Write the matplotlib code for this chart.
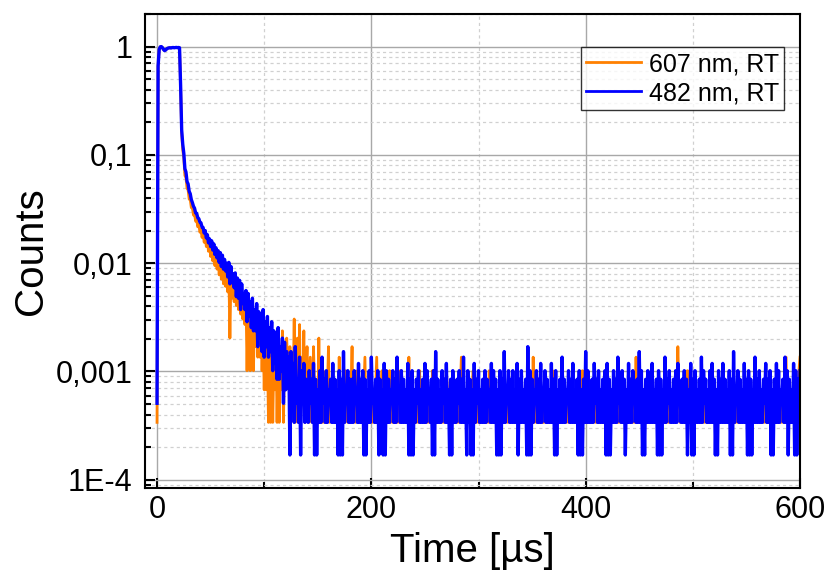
# time-resolved luminescence decay, 607 nm vs 482 nm at room temperature
import numpy as np
import matplotlib.pyplot as plt
from matplotlib.ticker import FixedLocator, FixedFormatter, LogLocator, MultipleLocator

# counts per 1 us channel, normalised afterwards to the plateau level
norm_blue = 5900.0
norm_orange = 2950.0

# pulse plateau, t = 0 .. 22 us
blue_peak = [3, 3900, 5550, 5870, 5900, 5780, 5560, 5420, 5480, 5620, 5700, 5740,
             5760, 5730, 5770, 5790, 5760, 5780, 5800, 5770, 5790, 5760, 2600]
orange_peak = [1, 1950, 2780, 2930, 2950, 2890, 2790, 2720, 2750, 2810, 2850, 2870,
               2880, 2870, 2890, 2900, 2880, 2890, 2900, 2880, 2890, 2870, 1250]

# decay, t = 23 .. 140 us
blue_decay = [1000, 740, 610, 440, 410, 335, 318, 272, 258, 228, 214, 198, 190, 172, 170, 155, 152, 141, 139, 127,
              126, 112, 118, 101, 108, 91, 99, 84, 95, 78, 89, 71, 82, 66, 77, 60, 74, 55, 70, 52,
              64, 50, 59, 44, 60, 38, 55, 39, 47, 35, 48, 29, 43, 28, 41, 22, 38, 25, 31, 22,
              33, 17, 31, 19, 26, 15, 28, 14, 22, 14, 25, 10, 21, 12, 18, 9, 22, 8, 17, 10,
              19, 8, 15, 9, 17, 6, 14, 7, 12, 5, 15, 5, 10, 6, 12, 3, 11, 4, 9, 5,
              8, 1, 9, 3, 7, 2, 10, 3, 5, 2, 8, 1, 6, 3, 7, 2, 5, 3]
orange_decay = [470, 330, 275, 190, 182, 145, 140, 115, 114, 96, 96, 82, 84, 72, 74, 64, 67, 57, 60, 51,
                56, 46, 52, 42, 49, 38, 46, 34, 43, 31, 40, 28, 37, 26, 35, 23, 33, 21, 31, 19,
                29, 18, 27, 16, 25, 6, 23, 14, 22, 13, 20, 12, 19, 11, 17, 10, 16, 9, 15, 8,
                14, 3, 13, 7, 3, 6, 12, 3, 11, 5, 10, 4, 9, 4, 8, 3, 7, 2, 6, 2,
                5, 1, 6, 1, 5, 1, 4, 2, 6, 1, 5, 1, 4, 2, 7, 1, 5, 2, 6, 3,
                2, 5, 1, 4, 2, 9, 1, 3, 6, 2, 8, 1, 4, 2, 7, 1, 3, 5]

# background, t = 141 .. 600 us
blue_tail = [2, 6, 3, 5, 2, 7, 1, 5, 1, 4, 2, 6, 2, 8, 3, 5, 2, 6, 2, 4,
             3, 5, 2, 7, 2, 5, 2, 4, 1, 6, 1, 5, 1, 9, 2, 4, 3, 6, 2, 5,
             2, 5, 2, 6, 3, 4, 2, 7, 2, 5, 2, 6, 1, 5, 1, 4, 2, 6, 2, 8,
             3, 4, 2, 5, 2, 6, 1, 5, 2, 4, 1, 7, 1, 6, 2, 5, 2, 4, 3, 6,
             2, 5, 2, 8, 3, 4, 2, 6, 2, 5, 2, 4, 2, 7, 1, 5, 1, 6, 1, 4,
             2, 5, 3, 6, 2, 4, 2, 5, 2, 7, 2, 6, 3, 4, 2, 5, 1, 6, 1, 9,
             2, 5, 2, 4, 2, 6, 3, 5, 2, 7, 2, 4, 1, 5, 1, 6, 2, 4, 2, 5,
             3, 6, 2, 5, 2, 8, 2, 4, 1, 6, 2, 5, 1, 4, 1, 7, 2, 5, 3, 6,
             2, 4, 2, 5, 2, 6, 2, 5, 3, 4, 2, 7, 2, 6, 2, 5, 1, 4, 1, 6,
             1, 5, 2, 9, 2, 4, 3, 6, 2, 5, 2, 6, 2, 4, 2, 7, 1, 5, 2, 6,
             2, 4, 2, 5, 1, 10, 1, 6, 1, 5, 2, 4, 3, 6, 2, 5, 2, 7, 2, 4,
             3, 6, 2, 5, 2, 4, 2, 7, 2, 5, 1, 6, 1, 4, 2, 5, 2, 8, 2, 5,
             2, 4, 3, 6, 2, 5, 2, 7, 2, 4, 2, 5, 1, 6, 1, 4, 1, 5, 2, 9,
             2, 6, 2, 4, 2, 5, 2, 7, 3, 5, 2, 6, 2, 4, 2, 5, 2, 6, 1, 7,
             1, 5, 1, 4, 2, 6, 2, 5, 2, 8, 3, 4, 2, 6, 2, 5, 1, 4, 2, 7,
             2, 5, 2, 6, 3, 4, 2, 5, 2, 9, 2, 6, 1, 4, 1, 5, 2, 6, 2, 5,
             2, 7, 2, 4, 2, 5, 1, 6, 1, 5, 1, 4, 2, 8, 2, 5, 3, 6, 2, 4,
             2, 5, 2, 6, 2, 7, 3, 4, 2, 5, 2, 6, 2, 5, 1, 4, 2, 7, 1, 5,
             1, 6, 2, 4, 2, 5, 2, 8, 2, 6, 3, 5, 2, 4, 2, 6, 2, 7, 2, 5,
             1, 4, 1, 6, 2, 5, 2, 7, 2, 5, 2, 4, 2, 6, 1, 5, 1, 9, 2, 4,
             3, 6, 2, 5, 2, 4, 2, 7, 2, 5, 1, 6, 1, 5, 1, 4, 2, 8, 2, 5,
             2, 6, 2, 4, 2, 5, 3, 7, 2, 5, 2, 6, 1, 4, 1, 5, 2, 7, 2, 6,
             2, 4, 3, 5, 2, 8, 2, 6, 1, 5, 2, 4, 2, 7, 1, 6, 1, 5, 2, 6]
orange_tail = [2, 1, 4, 2, 1, 5, 2, 1, 2, 1, 6, 1, 2, 1, 3, 1, 2, 1, 2, 5,
               1, 2, 1, 3, 1, 2, 1, 2, 1, 4, 1, 2, 1, 2, 1, 3, 2, 1, 2, 1,
               2, 5, 1, 2, 1, 2, 3, 1, 2, 1, 2, 1, 2, 4, 1, 2, 1, 2, 1, 3,
               1, 2, 1, 2, 4, 1, 2, 1, 2, 3, 1, 2, 1, 2, 1, 2, 3, 1, 2, 1,
               2, 1, 2, 1, 2, 1, 3, 1, 2, 1, 2, 1, 2, 1, 4, 1, 2, 1, 2, 1,
               2, 1, 2, 1, 3, 1, 2, 1, 2, 1, 2, 1, 2, 1, 2, 1, 3, 1, 2, 1,
               1, 2, 1, 2, 1, 2, 1, 2, 1, 3, 2, 1, 2, 1, 2, 1, 2, 1, 2, 1,
               2, 1, 2, 4, 1, 2, 1, 2, 1, 2, 1, 2, 1, 2, 3, 1, 2, 1, 2, 1,
               1, 2, 1, 2, 1, 2, 1, 2, 1, 3, 1, 2, 1, 2, 1, 2, 1, 2, 1, 2,
               1, 2, 1, 2, 1, 2, 1, 3, 1, 2, 1, 2, 1, 2, 1, 2, 1, 2, 1, 2,
               2, 1, 2, 1, 2, 1, 2, 1, 2, 1, 4, 1, 2, 1, 2, 1, 2, 1, 2, 1,
               1, 2, 1, 2, 1, 2, 1, 2, 3, 1, 2, 1, 2, 1, 2, 1, 2, 1, 2, 1,
               2, 1, 2, 1, 2, 1, 2, 1, 2, 1, 2, 1, 2, 1, 2, 1, 3, 1, 2, 1,
               1, 2, 1, 2, 1, 2, 1, 2, 1, 2, 1, 2, 1, 2, 1, 2, 1, 2, 1, 2,
               1, 2, 1, 2, 1, 2, 1, 2, 1, 3, 1, 2, 1, 2, 1, 2, 1, 2, 1, 2,
               2, 1, 2, 1, 2, 1, 4, 1, 2, 1, 2, 1, 2, 1, 2, 1, 2, 1, 2, 1,
               1, 2, 1, 2, 1, 2, 1, 2, 1, 2, 1, 2, 1, 2, 1, 2, 1, 2, 1, 2,
               2, 1, 2, 1, 2, 5, 2, 1, 2, 1, 2, 1, 2, 1, 3, 1, 2, 1, 2, 1,
               1, 2, 1, 2, 1, 2, 1, 2, 1, 2, 1, 2, 1, 2, 1, 2, 1, 2, 1, 2,
               2, 1, 2, 1, 2, 1, 2, 1, 2, 1, 2, 1, 2, 1, 2, 1, 2, 1, 2, 1,
               2, 1, 2, 1, 2, 1, 2, 1, 2, 1, 2, 1, 2, 1, 2, 1, 2, 1, 2, 1,
               1, 2, 1, 2, 1, 2, 1, 2, 1, 2, 1, 2, 1, 2, 1, 2, 1, 2, 1, 2,
               1, 2, 1, 2, 1, 2, 4, 1, 2, 1, 2, 1, 2, 1, 2, 1, 2, 1, 3, 4]

series_labels = ['607 nm, RT', '482 nm, RT']
ytick_values = [1e-4, 1e-3, 1e-2, 1e-1, 1]
ytick_labels = ['1E-4', '0,001', '0,01', '0,1', '1']
xtick_values = [0, 200, 400, 600]

blue = np.array(blue_peak + blue_decay + blue_tail) / norm_blue
orange = np.array(orange_peak + orange_decay + orange_tail) / norm_orange
t_blue = np.arange(len(blue))
t_orange = np.arange(len(orange))

plt.rcParams['font.family'] = ['Liberation Sans', 'DejaVu Sans']

fig = plt.figure(figsize=(8.33, 5.72), dpi=100)
ax = fig.add_axes([0.1741, 0.1469, 0.7863, 0.8286])

ax.plot(t_orange, orange, color='#ff8000', lw=2.0, label=series_labels[0])
ax.plot(t_blue, blue, color='#0000ff', lw=2.4, label=series_labels[1])

ax.set_yscale('log')
ax.set_xlim(-11.2, 600)
ax.set_ylim(8.4e-5, 2.0)

ax.yaxis.set_major_locator(FixedLocator(ytick_values))
ax.yaxis.set_major_formatter(FixedFormatter(ytick_labels))
ax.yaxis.set_minor_locator(LogLocator(base=10, subs=np.arange(2, 10)))
ax.xaxis.set_major_locator(FixedLocator(xtick_values))
ax.xaxis.set_minor_locator(MultipleLocator(100))

# grid: solid major, dashed minor
ax.grid(True, which='major', color='#a8a8a8', lw=1.0, ls='-')
ax.grid(True, which='minor', color='#d0d0d0', lw=0.9, ls=(0, (2.5, 2.5)))
ax.set_axisbelow(True)

ax.tick_params(which='both', direction='in', width=1.5, top=False, right=False)
ax.tick_params(which='major', length=7, labelsize=22)
ax.tick_params(axis='y', which='major', pad=9)
ax.tick_params(axis='x', which='major', pad=5)
ax.tick_params(which='minor', length=4)
for sp in ax.spines.values():
    sp.set_linewidth(1.5)

ax.set_xlabel('Time [µs]', fontsize=29, labelpad=5)
ax.set_ylabel('Counts', fontsize=29, labelpad=4)

leg = ax.legend(loc='upper right', bbox_to_anchor=(0.9756, 0.930), borderaxespad=0,
                fontsize=18, frameon=True, fancybox=False, handlelength=2.2,
                handletextpad=0.32, borderpad=0.2, labelspacing=0.2)
leg.get_frame().set_edgecolor('black')
leg.get_frame().set_linewidth(1.0)
for line in leg.get_lines():
    line.set_linewidth(2.0)

fig.savefig('out.png', dpi=100)
